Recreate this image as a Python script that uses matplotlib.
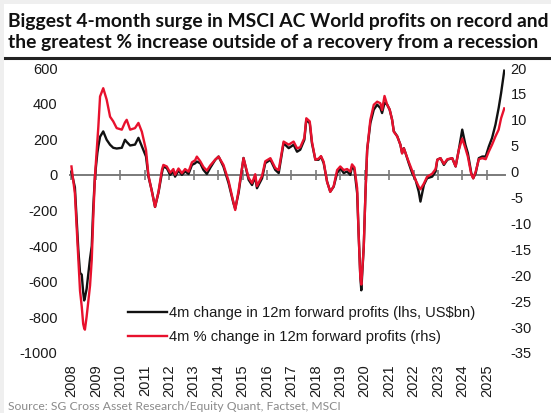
import matplotlib
matplotlib.use("Agg")
import matplotlib.pyplot as plt
from matplotlib.patches import Rectangle
from matplotlib.lines import Line2D

# ---------------- data ----------------
dates = [2008.00, 2008.14, 2008.28, 2008.35, 2008.42, 2008.48, 2008.52, 2008.55, 2008.62, 2008.76,
         2008.83, 2008.89, 2008.96, 2009.06, 2009.10, 2009.17, 2009.30, 2009.44, 2009.58, 2009.71,
         2009.85, 2010.06, 2010.19, 2010.26, 2010.40, 2010.60, 2010.74, 2010.88, 2011.05, 2011.15,
         2011.29, 2011.42, 2011.56, 2011.70, 2011.76, 2011.90, 2012.04, 2012.17, 2012.24, 2012.38,
         2012.52, 2012.65, 2012.79, 2012.93, 2013.06, 2013.13, 2013.27, 2013.40, 2013.54, 2013.68,
         2013.88, 2014.02, 2014.22, 2014.43, 2014.63, 2014.70, 2014.84, 2015.04, 2015.25, 2015.39,
         2015.52, 2015.59, 2015.80, 2015.93, 2016.14, 2016.34, 2016.48, 2016.68, 2016.89, 2017.09,
         2017.23, 2017.36, 2017.53, 2017.61, 2017.75, 2017.84, 2017.98, 2018.11, 2018.21, 2018.32,
         2018.46, 2018.59, 2018.73, 2018.87, 2019.00, 2019.14, 2019.28, 2019.41, 2019.48, 2019.58,
         2019.69, 2019.75, 2019.82, 2019.86, 2019.96, 2020.03, 2020.10, 2020.23, 2020.37, 2020.51,
         2020.64, 2020.71, 2020.81, 2020.92, 2021.02, 2021.12, 2021.19, 2021.33, 2021.46, 2021.53,
         2021.60, 2021.67, 2021.80, 2021.94, 2022.08, 2022.21, 2022.28, 2022.42, 2022.55, 2022.76,
         2022.90, 2022.97, 2023.10, 2023.24, 2023.38, 2023.58, 2023.72, 2023.85, 2023.99, 2024.12,
         2024.22, 2024.36, 2024.44, 2024.54, 2024.67, 2024.81, 2024.95, 2025.08, 2025.21, 2025.35,
         2025.48, 2025.58, 2025.71]

change_usd_bn = [15, -70, -420, -550, -560, -660, -705, -690, -640, -470,
                 -400, -190, -10, 124, 160, 214, 244, 197, 169, 152,
                 148, 152, 197, 185, 165, 170, 208, 160, 103, -10,
                 -90, -180, -100, 10, 46, 38, 0, 20, -10, 25,
                 0, 20, 5, 56, 65, 75, 65, 28, 5, 40,
                 84, 103, 46, -47, -160, -190, -100, 95, -28, -57,
                 -10, -75, -19, 66, 85, 28, 10, 178, 150, 169,
                 130, 141, 197, 310, 290, 178, 85, 85, 103, 66,
                 -38, -94, -66, 10, 38, 10, 19, 0, 47, 28,
                 -103, -328, -573, -648, -403, -103, 141, 290, 366, 394,
                 375, 347, 405, 394, 366, 310, 245, 217, 169, 122,
                 150, 122, 66, 10, -28, -94, -150, -57, -19, -10,
                 19, 85, 94, 56, 85, 94, 47, 141, 254, 169,
                 122, 10, -19, 10, 94, 103, 103, 160, 207, 282,
                 375, 459, 585]

change_pct = [1.0, -4.2, -17, -23, -26, -29.4, -30.2, -30.5, -28, -22,
              -17, -9, -1, 6, 8.7, 14.5, 16.1, 13.9, 10.6, 9.7,
              8.4, 8.1, 9.5, 10, 8.1, 8.4, 9.4, 7.7, 4.2, -0.7,
              -3.9, -6.8, -3.9, 0.3, 1.3, 1.0, -0.2, 0.5, -0.6, 0.6,
              -0.3, 0.5, 0.0, 1.8, 2.2, 2.9, 2.0, 0.9, 0.2, 1.2,
              2.3, 2.9, 1.3, -1.8, -6.0, -7.4, -3.6, 2.6, -1.2, -2.2,
              -0.5, -2.8, -0.8, 2.0, 2.6, 0.7, 0.3, 5.8, 5.2, 5.8,
              4.5, 4.7, 6.5, 10.3, 9.7, 5.8, 2.3, 2.5, 3.0, 1.9,
              -2.0, -3.9, -2.8, 0.3, 1.0, 0.3, 0.5, 0.0, 1.4, 0.8,
              -3.2, -12, -20.4, -21.8, -14.6, -4.2, 4.2, 10, 12.9, 13.5,
              13.2, 11.9, 14.6, 12.9, 12, 10, 7.7, 6.8, 5.2, 3.5,
              4.5, 3.6, 1.9, 0.2, -1.6, -2.9, -3.4, -2.3, -1.0, -0.4,
              0.5, 2.3, 2.6, 1.5, 2.4, 2.6, 1.0, 4.2, 6.4, 4.5,
              2.9, -0.5, -1.3, 0, 2.4, 2.6, 2.4, 3.9, 5.2, 6.8,
              8.1, 10.3, 12.2]

years = list(range(2008, 2026))
year_labels = [str(y) for y in years]
left_ticks = [600, 400, 200, 0, -200, -400, -600, -800, -1000]
right_ticks = [20, 15, 10, 5, 0, -5, -10, -15, -20, -25, -30, -35]

title_lines = ["Biggest 4-month surge in MSCI AC World profits on record and",
               "the greatest % increase outside of a recovery from a recession"]
legend_labels = ["4m change in 12m forward profits (lhs, US$bn)",
                 "4m % change in 12m forward profits (rhs)"]
source = "Source: SG Cross Asset Research/Equity Quant, Factset, MSCI"

# ---------------- figure ----------------
W, H = 551, 413
plt.rcParams['font.family'] = ['Liberation Sans', 'DejaVu Sans']
fig = plt.figure(figsize=(W / 100, H / 100), dpi=100, facecolor='#efefef')
fig.patches.append(Rectangle((4 / W, 0), 1, (H - 4) / H, transform=fig.transFigure,
                             facecolor='white', edgecolor='none', zorder=-10))

for i, line in enumerate(title_lines):
    fig.text(8 / W, 1 - (27 + 21 * i) / H, line, family=['Lato', 'DejaVu Sans'],
             fontweight='bold', fontsize=13.85, color='#111111', va='baseline', ha='left')
fig.add_artist(Line2D([5 / W, 1], [1 - 58 / H] * 2, transform=fig.transFigure,
                      color='#222222', lw=2.2))
fig.text(8 / W, 1 - 401 / H, source, family=['Lato', 'DejaVu Sans'], fontsize=8.7,
         color='#8a8a8a', va='top', ha='left')

ax = fig.add_axes([70 / W, 1 - 353 / H, 435 / W, 285 / H])
ax.patch.set_visible(False)
ax2 = ax.twinx()
ax2.patch.set_visible(False)

l1, = ax.plot(dates, change_usd_bn, color='#111111', lw=1.7, solid_joinstyle='round')
l2, = ax2.plot(dates, change_pct, color='#e8112d', lw=1.7, solid_joinstyle='round')

ax.set_xlim(2007.94, 2025.74)
ax.set_ylim(-1000, 600)
ax2.set_ylim(-35, 20)

for a in (ax, ax2):
    for s in ('top', 'left', 'right'):
        a.spines[s].set_visible(False)
ax2.spines['bottom'].set_visible(False)

ax.spines['bottom'].set_position(('data', 0))
ax.spines['bottom'].set_color('#7a7a7a')
ax.spines['bottom'].set_linewidth(1.4)
ax.spines['bottom'].set_zorder(1)
ax.set_xticks(years)
ax.tick_params(axis='x', direction='inout', length=7, width=1.2, color='#7a7a7a',
               labelbottom=False)

sec = ax.secondary_xaxis('bottom')
sec.set_xticks(years, year_labels)
sec.tick_params(length=0, pad=8, labelsize=10.5, labelcolor='#1a1a1a', rotation=90)
sec.spines['bottom'].set_visible(False)

ax.set_yticks(left_ticks)
ax.set_yticklabels([str(v) for v in left_ticks])
ax.tick_params(axis='y', length=0, pad=9, labelsize=10.5, labelcolor='#1a1a1a')
ax2.set_yticks(right_ticks)
ax2.set_yticklabels([str(v) for v in right_ticks])
ax2.tick_params(axis='y', length=0, pad=4, labelsize=10.5, labelcolor='#1a1a1a')

leg = ax2.legend([l1, l2], legend_labels, loc='lower left', bbox_to_anchor=(0.133, 0.03),
                 frameon=False, fontsize=10.6, handlelength=2.65, handletextpad=0.15,
                 labelspacing=0.7, borderpad=0, borderaxespad=0)
for t in leg.get_texts():
    t.set_color('#1a1a1a')

fig.savefig('out.png', dpi=100, facecolor=fig.get_facecolor())
